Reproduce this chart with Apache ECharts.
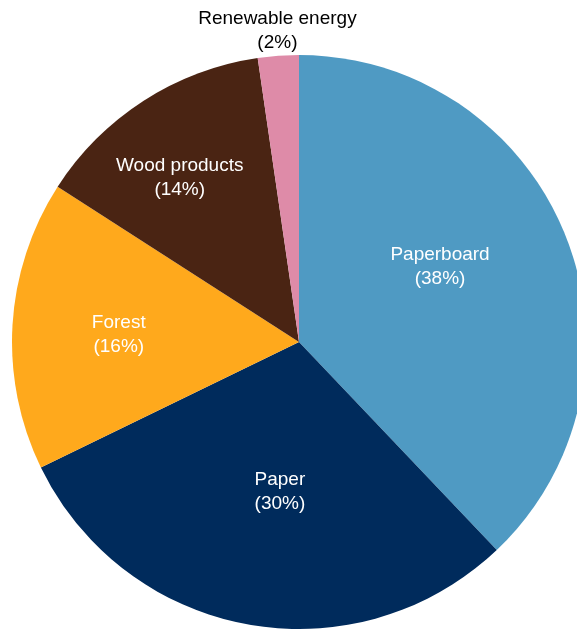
<!DOCTYPE html>
<html>
<head>
<meta charset="utf-8">
<script src="https://cdn.jsdelivr.net/npm/echarts@6/dist/echarts.min.js"></script>
<style>
  html, body { margin: 0; padding: 0; background: #fff; }
  #chart { width: 577px; height: 629px; }
</style>
</head>
<body>
<div id="chart"></div>
<script>
var segments = ['Paperboard', 'Paper', 'Forest', 'Wood products', 'Renewable energy'];
var shares = [37.9, 29.9, 16.3, 13.6, 2.3];
var colors = ['#4F9AC3', '#002B5C', '#FFA91C', '#4A2413', '#DE8BA8'];
// nudge labels to where the original sits them
var labelOffsets = [[5, -21], [7, 6], [-34, 2], [-40, -41], [-11, -165]];

var myChart = echarts.init(document.getElementById('chart'));

var data = segments.map(function (name, i) {
    return {
        name: name,
        value: shares[i],
        itemStyle: { color: colors[i] },
        label: {
            offset: labelOffsets[i],
            color: i === 4 ? '#000' : '#fff'
        }
    };
});

var option = {
    animation: false,
    series: [{
        type: 'pie',
        center: [299, 342],
        radius: [0, 287],
        startAngle: 90,
        clockwise: true,
        data: data,
        label: {
            show: true,
            position: 'inside',
            formatter: function (p) {
                return p.name + '\n(' + Math.round(p.percent) + '%)';
            },
            fontFamily: 'Liberation Sans, Arial, sans-serif',
            fontSize: 19,
            lineHeight: 24,
            align: 'center'
        },
        labelLine: { show: false },
        emphasis: { disabled: true }
    }]
};

myChart.setOption(option);
</script>
</body>
</html>
